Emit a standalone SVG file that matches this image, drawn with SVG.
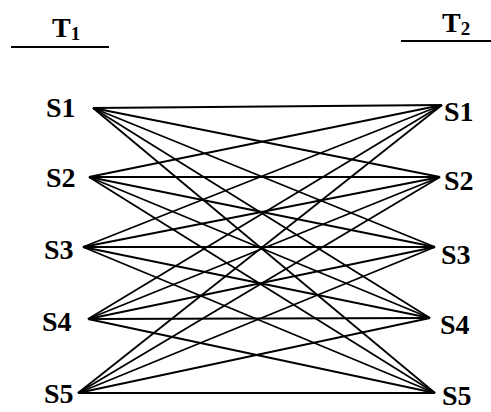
<svg xmlns="http://www.w3.org/2000/svg" width="491" height="412" viewBox="0 0 491 412">
<style>
.lbl{font-family:"Liberation Serif","Times New Roman",serif;font-weight:bold;font-size:28px;fill:#000}
.sub{font-size:19px}
.e{stroke:#000;stroke-width:1.8;fill:none}
.ul{stroke:#000;stroke-width:2}
</style>
<rect width="491" height="412" fill="#fff"/>
<g id="title-T1">
<text class="lbl" x="52" y="37">T<tspan class="sub" dy="3">1</tspan></text>
<line class="ul" x1="11" y1="47" x2="109" y2="47"/>
</g>
<g id="title-T2">
<text class="lbl" x="442" y="32">T<tspan class="sub" dy="3">2</tspan></text>
<line class="ul" x1="401" y1="41" x2="491" y2="41"/>
</g>
<g id="connectors">
<line class="e" x1="93" y1="108" x2="442" y2="105"/>
<line class="e" x1="93" y1="108" x2="440" y2="177"/>
<line class="e" x1="93" y1="108" x2="435" y2="247"/>
<line class="e" x1="93" y1="108" x2="430" y2="318"/>
<line class="e" x1="93" y1="108" x2="435" y2="393"/>
<line class="e" x1="89" y1="177" x2="442" y2="105"/>
<line class="e" x1="89" y1="177" x2="440" y2="177"/>
<line class="e" x1="89" y1="177" x2="435" y2="247"/>
<line class="e" x1="89" y1="177" x2="430" y2="318"/>
<line class="e" x1="89" y1="177" x2="435" y2="393"/>
<line class="e" x1="83" y1="247" x2="442" y2="105"/>
<line class="e" x1="83" y1="247" x2="440" y2="177"/>
<line class="e" x1="83" y1="247" x2="435" y2="247"/>
<line class="e" x1="83" y1="247" x2="430" y2="318"/>
<line class="e" x1="83" y1="247" x2="435" y2="393"/>
<line class="e" x1="88" y1="319" x2="442" y2="105"/>
<line class="e" x1="88" y1="319" x2="440" y2="177"/>
<line class="e" x1="88" y1="319" x2="435" y2="247"/>
<line class="e" x1="88" y1="319" x2="430" y2="318"/>
<line class="e" x1="88" y1="319" x2="435" y2="393"/>
<line class="e" x1="78" y1="393" x2="442" y2="105"/>
<line class="e" x1="78" y1="393" x2="440" y2="177"/>
<line class="e" x1="78" y1="393" x2="435" y2="247"/>
<line class="e" x1="78" y1="393" x2="430" y2="318"/>
<line class="e" x1="78" y1="393" x2="435" y2="393"/>
</g>
<g id="T1-S1"><text class="lbl" x="46" y="117">S1</text></g>
<g id="T1-S2"><text class="lbl" x="46" y="187">S2</text></g>
<g id="T1-S3"><text class="lbl" x="44" y="259">S3</text></g>
<g id="T1-S4"><text class="lbl" x="42" y="331">S4</text></g>
<g id="T1-S5"><text class="lbl" x="44" y="403">S5</text></g>
<g id="T2-S1"><text class="lbl" x="444" y="121">S1</text></g>
<g id="T2-S2"><text class="lbl" x="444" y="190">S2</text></g>
<g id="T2-S3"><text class="lbl" x="441" y="264">S3</text></g>
<g id="T2-S4"><text class="lbl" x="440" y="334">S4</text></g>
<g id="T2-S5"><text class="lbl" x="442" y="405">S5</text></g>
</svg>
